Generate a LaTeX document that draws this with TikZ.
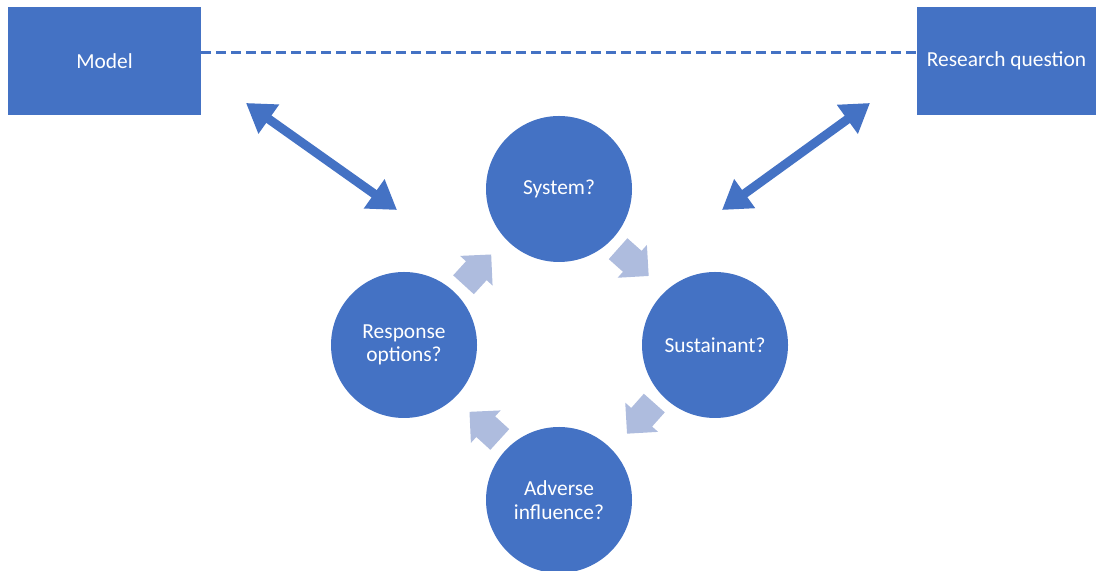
\documentclass[tikz,border=0pt]{standalone}
\usepackage{fontspec}
\setmainfont{Carlito}
\usetikzlibrary{arrows.meta}
\definecolor{obl}{HTML}{4472C4}
\definecolor{lbl}{RGB}{174,188,222}
\tikzset{
  box/.style={rectangle, fill=obl, draw=none, text=white, font=\fontsize{10.7}{12}\selectfont, inner sep=0pt},
  circ/.style={circle, fill=obl, draw=none, text=white, minimum size=73pt, inner sep=0pt, align=center, font=\fontsize{10.7}{11.8}\selectfont},
  dbl/.style={draw=obl, line width=4.5pt, {Triangle[width=17pt,length=14pt]}-{Triangle[width=17pt,length=14pt]}},
  cyc/.style={fill=lbl, draw=none},
}
\begin{document}
\begin{tikzpicture}[x=0.5pt,y=0.5pt]
\useasboundingbox (0,0) rectangle (1096,571);
% boxes
\node[box, minimum width=96.5pt, minimum height=54pt] (model) at (104.5,510) {Model};
\node[box, minimum width=89.5pt, minimum height=54pt] (rq) at (1006.5,510) {Research question};
\draw[obl, line width=1.5pt, dash pattern=on 5pt off 2.5pt] ([yshift=4pt]model.east) -- ([yshift=4pt]rq.west);
% circles
\node[circ] (sys) at (559,382) {System?};
\node[circ] (sus) at (715,226) {Sustainant?};
\node[circ] (resp) at (404,226) {Response\\options?};
\node[circ] (adv) at (559,71) {Adverse\\influence?};
% double arrows
\coordinate (la) at (246,468);
\coordinate (lb) at (397,361);
\coordinate (ra) at (870,468);
\coordinate (rb) at (722,361);
\draw[dbl] (la) -- (lb);
\draw[dbl] (ra) -- (rb);
% cycle arrows
\foreach \cx/\cy/\ang in {633/309/-41.7, 641/153/-131.7, 485/145/137.6, 477/301/47.6}{
  \fill[cyc, shift={(\cx,\cy)}, rotate=\ang]
    (-20,-14) -- (-1,-14) -- (-1,-22) -- (21,0) -- (-1,22) -- (-1,14) -- (-20,14) -- cycle;
}
\end{tikzpicture}
\end{document}
